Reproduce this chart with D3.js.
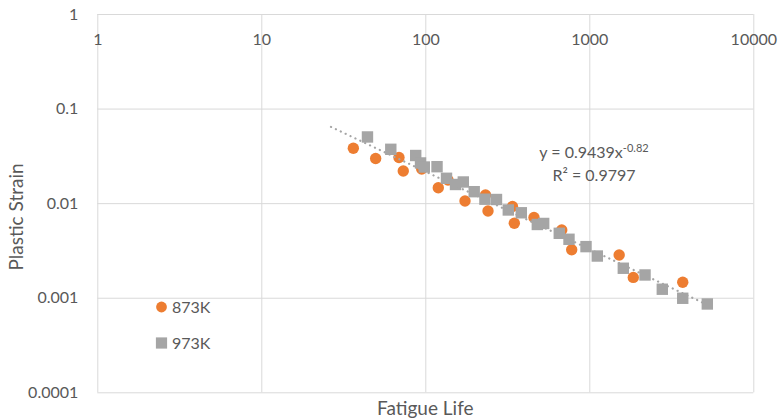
<!DOCTYPE html>
<html>
<head>
<meta charset="utf-8">
<script src="https://cdn.jsdelivr.net/npm/d3@7"></script>
<style>
  html, body { margin: 0; padding: 0; background: #fff; }
  svg { display: block; font-family: Lato, "Open Sans", sans-serif; }
</style>
</head>
<body>
<svg id="chart" width="779" height="420"></svg>
<script>
// ---- data ----
const xTicks = [1, 10, 100, 1000, 10000];
const xTickLabels = ["1", "10", "100", "1000", "10000"];
const yTicks = [1, 0.1, 0.01, 0.001, 0.0001];
const yTickLabels = ["1", "0.1", "0.01", "0.001", "0.0001"];

const seriesNames = ["873K", "973K"];

const life873 = [36.4, 49.8, 69.1, 73.4, 95.1, 120, 137.5, 174.6, 232.9, 241.2, 349, 340, 460, 679, 781, 1521, 1854, 3713];
const strain873 = [0.0380, 0.0297, 0.0304, 0.0219, 0.0230, 0.01457, 0.01757, 0.01054, 0.01220, 0.00826, 0.00612, 0.00922, 0.00705, 0.00520, 0.00322, 0.00283, 0.00164, 0.00146];

const life973 = [44.4, 61.6, 87.4, 93.5, 98.6, 117.9, 134.7, 152.8, 170.5, 198.7, 231, 271.7, 320.7, 385, 482, 527, 656, 752, 955, 1119, 1612, 2187, 2787, 3713, 5243];
const strain973 = [0.0501, 0.0371, 0.0319, 0.0266, 0.0241, 0.0243, 0.01832, 0.01575, 0.01674, 0.01322, 0.01101, 0.01093, 0.00847, 0.00791, 0.00595, 0.00610, 0.00480, 0.00415, 0.00347, 0.00276, 0.00205, 0.00174, 0.00123, 0.000987, 0.000859];

// power trendline y = a * x^b
const trendCoef = [0.9439, -0.82];
const trendRange = [26.6, 5243];
const trendLabel = "y = 0.9439x";
const trendExpLabel = "-0.82";
const r2Label = "R² = 0.9797";

const xTitle = "Fatigue Life";
const yTitle = "Plastic Strain";

// ---- layout ----
const W = 779, H = 420;
const plot = { left: 97.3, right: 753.3, top: 14, bottom: 392.3 };
const textColor = "#595959";
const gridColor = "#D9D9D9";
const orange = "#ED7D31";
const gray = "#A5A5A5";

const svg = d3.select("#chart");

const x = d3.scaleLog().domain([1, 10000]).range([plot.left, plot.right]);
const y = d3.scaleLog().domain([0.0001, 1]).range([plot.bottom, plot.top]);

// gridlines
svg.append("g")
  .attr("transform", `translate(0,${plot.top})`)
  .call(d3.axisBottom(x).tickValues(xTicks).tickSize(plot.bottom - plot.top).tickFormat(""))
  .call(g => g.select(".domain").remove())
  .call(g => g.selectAll("line").attr("stroke", gridColor).attr("stroke-width", 1));

svg.append("g")
  .attr("transform", `translate(${plot.left},0)`)
  .call(d3.axisRight(y).tickValues(yTicks).tickSize(plot.right - plot.left).tickFormat(""))
  .call(g => g.select(".domain").remove())
  .call(g => g.selectAll("line").attr("stroke", gridColor).attr("stroke-width", 1));

// x tick labels (near the top axis line)
svg.append("g")
  .attr("transform", `translate(0,${plot.top})`)
  .call(d3.axisBottom(x).tickValues(xTicks).tickSize(0).tickPadding(19.5)
        .tickFormat((d, i) => xTickLabels[i]))
  .call(g => g.select(".domain").remove())
  .call(g => g.selectAll("text").attr("fill", textColor).style("font-size", "16px").style("font-family", "Lato, 'Open Sans', sans-serif"));

// y tick labels
svg.append("g")
  .attr("transform", `translate(${plot.left},0)`)
  .call(d3.axisLeft(y).tickValues(yTicks).tickSize(0).tickPadding(19)
        .tickFormat((d, i) => yTickLabels[i]))
  .call(g => g.select(".domain").remove())
  .call(g => g.selectAll("text").attr("fill", textColor).style("font-size", "16px").style("font-family", "Lato, 'Open Sans', sans-serif"));

// axis titles
svg.append("text")
  .attr("x", (plot.left + plot.right) / 2)
  .attr("y", 415)
  .attr("text-anchor", "middle")
  .attr("fill", textColor)
  .style("font-size", "19px")
  .text(xTitle);

svg.append("text")
  .attr("transform", `translate(23,217) rotate(-90)`)
  .attr("text-anchor", "middle")
  .attr("fill", textColor)
  .style("font-size", "19px")
  .text(yTitle);

// series 873K (circles)
const d873 = life873.map((v, i) => [v, strain873[i]]);
const d973 = life973.map((v, i) => [v, strain973[i]]);

svg.append("g").selectAll("circle")
  .data(d873).join("circle")
  .attr("cx", d => x(d[0]))
  .attr("cy", d => y(d[1]))
  .attr("r", 5.7)
  .attr("fill", orange);

// trendline
const trendPts = d3.range(0, 101).map(i => {
  const lx = Math.log10(trendRange[0]) + (Math.log10(trendRange[1]) - Math.log10(trendRange[0])) * i / 100;
  const xv = Math.pow(10, lx);
  return [xv, trendCoef[0] * Math.pow(xv, trendCoef[1])];
});
svg.append("path")
  .datum(trendPts)
  .attr("d", d3.line().x(d => x(d[0])).y(d => y(d[1])))
  .attr("fill", "none")
  .attr("stroke", gray)
  .attr("stroke-width", 2.2)
  .attr("stroke-linecap", "round")
  .attr("stroke-dasharray", "0.1,5.3");

// series 973K (squares)
const sq = 11.4;
svg.append("g").selectAll("rect")
  .data(d973).join("rect")
  .attr("x", d => x(d[0]) - sq / 2)
  .attr("y", d => y(d[1]) - sq / 2)
  .attr("width", sq)
  .attr("height", sq)
  .attr("fill", gray);

// trendline equation
const eq = svg.append("text")
  .attr("x", 594)
  .attr("y", 158)
  .attr("text-anchor", "middle")
  .attr("fill", textColor)
  .style("font-size", "16px");
eq.append("tspan").text(trendLabel);
eq.append("tspan").attr("dy", -6).style("font-size", "11px").text(trendExpLabel);

svg.append("text")
  .attr("x", 594)
  .attr("y", 181)
  .attr("text-anchor", "middle")
  .attr("fill", textColor)
  .style("font-size", "16px")
  .text(r2Label);

// legend
const legend = svg.append("g");
const legendItems = [
  { name: seriesNames[0], color: orange, shape: "circle", cy: 307 },
  { name: seriesNames[1], color: gray, shape: "square", cy: 343 }
];
legendItems.forEach(it => {
  if (it.shape === "circle") {
    legend.append("circle").attr("cx", 161.5).attr("cy", it.cy).attr("r", 5.4).attr("fill", it.color);
  } else {
    legend.append("rect").attr("x", 161.5 - 5.6).attr("y", it.cy - 5.6).attr("width", 11.2).attr("height", 11.2).attr("fill", it.color);
  }
  legend.append("text")
    .attr("x", 172)
    .attr("y", it.cy)
    .attr("dy", "0.36em")
    .attr("fill", textColor)
    .style("font-size", "16px")
    .text(it.name);
});
</script>
</body>
</html>
